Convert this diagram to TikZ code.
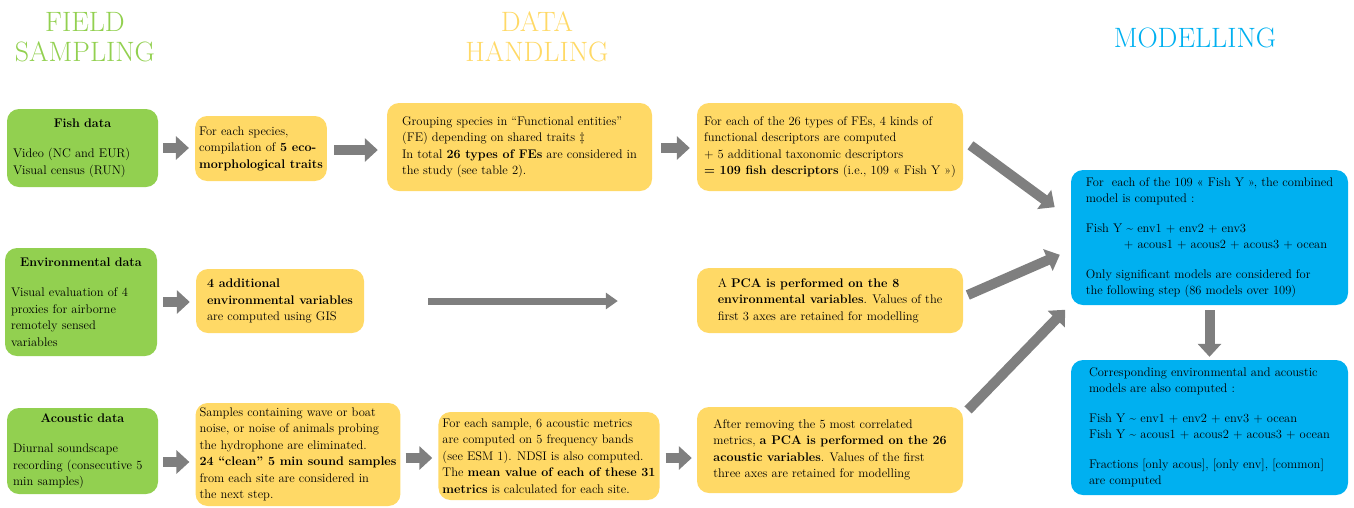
\documentclass[tikz,border=0pt]{standalone}
\usepackage{tikz}
\usetikzlibrary{arrows.meta, positioning}
\definecolor{fieldgreen}{HTML}{92D050}
\definecolor{handlyellow}{HTML}{FFD966}
\definecolor{modelblue}{HTML}{00B0F0}
\definecolor{arrowgrey}{HTML}{7F7F7F}
\tikzset{
  box/.style={rectangle, rounded corners=12pt, inner sep=4pt, align=left, font=\fontsize{12.5}{16.5}\selectfont},
  greenbox/.style={box, fill=fieldgreen, inner xsep=6pt},
  yellowbox/.style={box, fill=handlyellow},
  bluebox/.style={box, fill=modelblue},
  phase/.style={align=center, font=\fontsize{28}{30}\selectfont},
  blockarrow/.style={draw=arrowgrey, line width=10pt, -{Triangle[length=13pt,width=23pt]}},
  thinarrow/.style={draw=arrowgrey, line width=7pt, -{Triangle[length=12pt,width=16pt]}},
}
\begin{document}
\begin{tikzpicture}[x=1pt, y=-1pt]
    \useasboundingbox (0,0) rectangle (1354,507);
    % titres des trois phases
    \node[phase, text=fieldgreen] (fieldtitle) at (85,37) {FIELD\\SAMPLING};
    \node[phase, text=handlyellow] (datatitle) at (537,37) {DATA\\HANDLING};
    \node[phase, text=modelblue] (modeltitle) at (1195,38) {MODELLING};

    % donnees de terrain
    \node[greenbox, minimum width=151pt, minimum height=78pt, text width=139pt] (fishdata) at (82.5,148)
      {{\centering\textbf{Fish data}\par}\vspace{14pt}Video (NC and EUR)\\ Visual census (RUN)};
    \node[greenbox, minimum width=152pt, minimum height=108pt, text width=140pt] (envdata) at (81,302)
      {{\centering\textbf{Environmental data}\par}\vspace{14pt}Visual evaluation of 4\\ proxies for airborne\\ remotely sensed\\ variables};
    \node[greenbox, minimum width=151pt, minimum height=86pt, text width=139pt] (acoudata) at (82.5,451)
      {{\centering\textbf{Acoustic data}\par}\vspace{14pt}Diurnal soundscape\\ recording (consecutive 5\\ min samples)};

    % traitement des donnees
    \node[yellowbox, minimum width=130pt, minimum height=65pt] (traits) at (261,148.5)
      {For each species,\\ compilation of \textbf{5 eco-}\\ \textbf{morphological traits}};
    \node[yellowbox, minimum width=265pt, minimum height=88pt] (groups) at (519.5,147)
      {Grouping species in ``Functional entities''\\ (FE) depending on shared traits \ddag\\ In total \textbf{26 types of FEs} are considered in\\ the study (see table 2).};
    \node[yellowbox, minimum width=266pt, minimum height=88pt] (descr) at (830,147)
      {For each of the 26 types of FEs, 4 kinds of\\ functional descriptors are computed\\ + 5 additional taxonomic descriptors\\ \textbf{= 109 fish descriptors} (i.e., 109 « Fish Y »)};
    \node[yellowbox, minimum width=168pt, minimum height=64pt] (envvars) at (280,301)
      {\textbf{4 additional}\\ \textbf{environmental variables}\\ are computed using GIS};
    \node[yellowbox, minimum width=266pt, minimum height=65pt] (envpca) at (830,300.5)
      {A \textbf{PCA is performed on the 8}\\ \textbf{environmental variables}. Values of the\\ first 3 axes are retained for modelling};
    \node[yellowbox, minimum width=204pt, minimum height=103pt] (samples) at (298,454.5)
      {Samples containing wave or boat\\ noise, or noise of animals probing\\ the hydrophone are eliminated.\\ \textbf{24 ``clean'' 5 min sound samples}\\ from each site are considered in\\ the next step.};
    \node[yellowbox, minimum width=216pt, minimum height=88pt] (metrics) at (549,456)
      {For each sample, 6 acoustic metrics\\ are computed on 5 frequency bands\\ (see ESM 1). NDSI is also computed.\\ The \textbf{mean value of each of these 31}\\ \textbf{metrics} is calculated for each site.};
    \node[yellowbox, minimum width=266pt, minimum height=86pt] (acoupca) at (830,450)
      {After removing the 5 most correlated\\ metrics, \textbf{a PCA is performed on the 26}\\ \textbf{acoustic variables}. Values of the first\\ three axes are retained for modelling};

    % modelisation
    \node[bluebox, minimum width=277pt, minimum height=135pt] (combined) at (1209.5,237.5)
      {For\ \ each of the 109 « Fish Y », the combined\\ model is computed :\\[13pt]
       Fish Y \textasciitilde{} env1 + env2 + env3\\ \hspace*{38pt}+ acous1 + acous2 + acous3 + ocean\\[13pt]
       Only significant models are considered for\\ the following step (86 models over 109)};
    \node[bluebox, minimum width=277pt, minimum height=135pt] (partial) at (1209.5,427.5)
      {Corresponding environmental and acoustic\\ models are also computed :\\[13pt]
       Fish Y \textasciitilde{} env1 + env2 + env3 + ocean\\ Fish Y \textasciitilde{} acous1 + acous2 + acous3 + ocean\\[13pt]
       Fractions [only acous], [only env], [common]\\ are computed};

    % fleches
    \draw[blockarrow, shorten <=5pt, shorten >=6pt] (fishdata.east) -- (fishdata.east -| traits.west);
    \draw[blockarrow, shorten <=7pt, shorten >=9pt] ([yshift=-1.5pt]traits.east) -- ([yshift=-1.5pt]traits.east -| groups.west);
    \draw[blockarrow, shorten <=9pt, shorten >=7pt] ([yshift=-1pt]groups.east) -- ([yshift=-1pt]groups.east -| descr.west);
    \draw[blockarrow, shorten <=6pt, shorten >=6pt] (envdata.east) -- (envdata.east -| envvars.west);
    \draw[thinarrow, shorten <=64pt, shorten >=79pt] (envvars.east) -- (envvars.east -| envpca.west);
    \draw[blockarrow, shorten <=5pt, shorten >=6pt] ([yshift=-11pt]acoudata.east) -- ([yshift=-11pt]acoudata.east -| samples.west);
    \draw[blockarrow, shorten <=5pt, shorten >=6pt] ([yshift=-3.5pt]samples.east) -- ([yshift=-3.5pt]samples.east -| metrics.west);
    \draw[blockarrow, shorten <=6pt, shorten >=5pt] ([yshift=-2pt]metrics.east) -- ([yshift=-2pt]metrics.east -| acoupca.west);
    \draw[blockarrow, shorten <=9pt, shorten >=20pt] ([yshift=7pt]descr.east) -- ([yshift=18.5pt]combined.west);
    \draw[blockarrow, shorten <=5pt, shorten >=12pt] ([yshift=3.5pt]envpca.east) -- ([yshift=-12.5pt]combined.west);
    \draw[blockarrow, shorten <=7pt, shorten >=8pt] ([yshift=35pt]acoupca.east) -- ([yshift=-66.5pt]combined.west);
    \draw[blockarrow, shorten <=5pt, shorten >=3pt] (combined.south) -- (partial.north);
\end{tikzpicture}
\end{document}
